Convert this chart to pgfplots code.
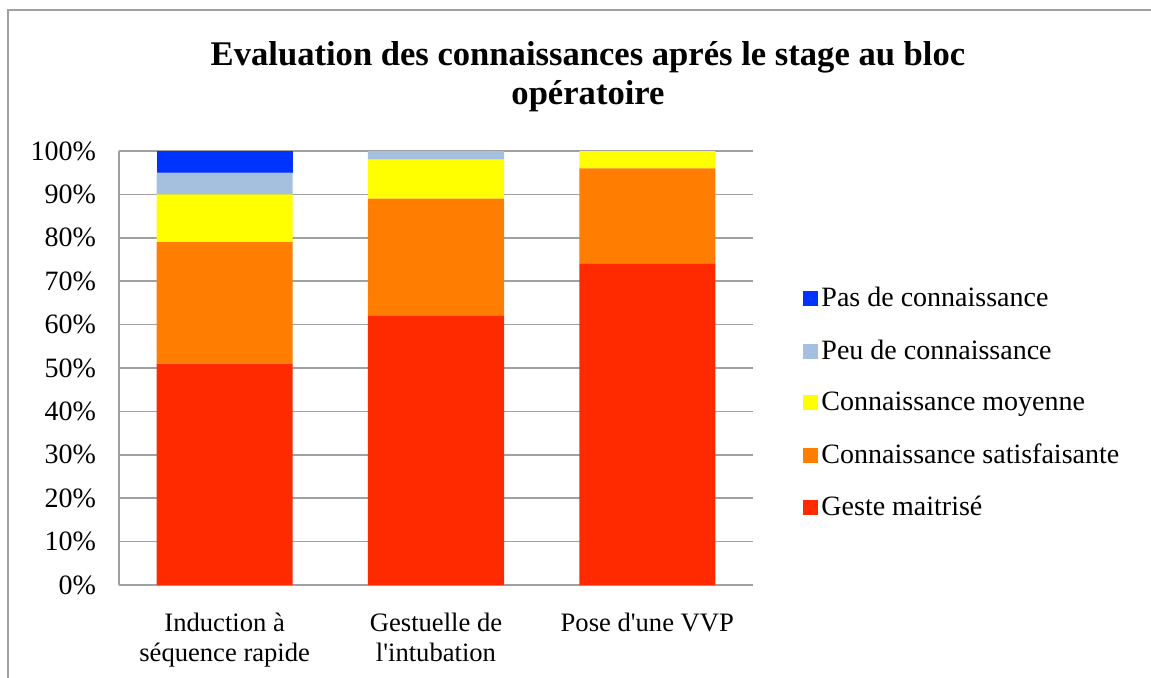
\documentclass[border=0pt]{standalone}
\usepackage{fontspec}
\setmainfont{Liberation Serif}[Ligatures=TeXOff]
\usepackage{pgfplots}
\pgfplotsset{compat=1.18}
\usepackage{pgfplotstable}
\definecolor{pasc}{HTML}{0033FF}
\definecolor{peuc}{HTML}{A4C0DE}
\definecolor{moyc}{HTML}{FFFF00}
\definecolor{satc}{HTML}{FF7D00}
\definecolor{gestc}{HTML}{FF2A00}
\definecolor{gridc}{HTML}{A0A0A0}

\pgfplotstableread{
x geste satis moy peu pas
0 51 28 11 5 5
1 62 27 9  2 0
2 74 22 4  0 0
}\evaldata

\begin{document}
\begin{tikzpicture}
\useasboundingbox (-59.5pt,-46pt) rectangle (516pt,292.5pt);
\draw[gridc,line width=1pt] (-55.5pt,-50pt) -- (-55.5pt,287.5pt) -- (520pt,287.5pt);
\begin{axis}[
  at={(0pt,0pt)},anchor=south west,
  scale only axis,width=317pt,height=217pt,
  ybar stacked,bar width=68pt,
  xmin=-0.5,xmax=2.5,ymin=0,ymax=100,
  xtick=data,
  xticklabels={{Induction à\\séquence rapide},{Gestuelle de\\l'intubation},{Pose d'une VVP}},
  xticklabel style={align=center,font=\fontsize{13.3}{15}\selectfont,yshift=-10.5pt},
  ytick={0,10,...,100},
  yticklabel={\pgfmathprintnumber{\tick}\%},
  yticklabel style={font=\fontsize{14}{16}\selectfont,xshift=-8pt},
  /pgf/number format/assume math mode=true,
  major tick length=0pt,
  axis x line*=bottom,axis y line*=left,
  axis line style={gridc,line width=0.8pt},
  ymajorgrids,grid style={gridc,line width=0.8pt},
  reverse legend,
  legend cell align=left,
  legend style={draw=none,fill=none,at={(1.079,0.419)},anchor=west,
    font=\fontsize{14}{16}\selectfont,row sep=15pt,inner sep=0pt,
    nodes={inner xsep=1.5pt,inner ysep=0pt}},
  legend image code/.code={\fill[#1] (0pt,-3.75pt) rectangle (7.5pt,3.75pt);},
]
\addplot[fill=gestc,draw=none] table[x=x,y=geste] {\evaldata};
\addplot[fill=satc,draw=none] table[x=x,y=satis] {\evaldata};
\addplot[fill=moyc,draw=none] table[x=x,y=moy] {\evaldata};
\addplot[fill=peuc,draw=none] table[x=x,y=peu] {\evaldata};
\addplot[fill=pasc,draw=none] table[x=x,y=pas] {\evaldata};
\legend{Geste maitrisé,Connaissance satisfaisante,Connaissance moyenne,Peu de connaissance,Pas de connaissance}
\end{axis}
\node[align=center,font=\fontsize{17.3}{19.5}\selectfont\bfseries] at (234.5pt,254pt)
  {Evaluation des connaissances aprés le stage au bloc\\opératoire};
\end{tikzpicture}
\end{document}
